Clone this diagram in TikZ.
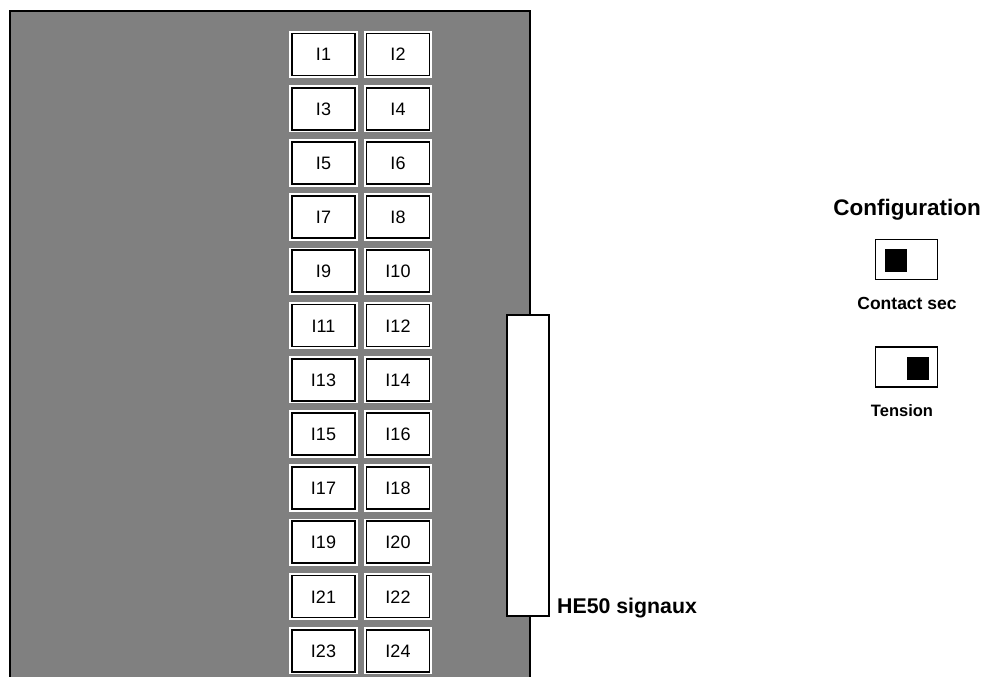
\documentclass[tikz,border=0pt]{standalone}
\usepackage{fontspec}
\setmainfont{Liberation Sans}
\definecolor{panelgray}{RGB}{128,128,128}
\tikzset{
  btn/.style={draw=black, line width=1.8pt, fill=white, preaction={draw=white, line width=5.5pt},
    minimum width=63pt, minimum height=42pt, inner sep=0pt, outer sep=0pt,
    text height=13pt, text depth=0pt,
    font=\fontsize{18}{20}\selectfont},
  lbl/.style={font=\bfseries\fontsize{17}{19}\selectfont, inner sep=0pt},
  swbox/.style={draw=black, line width=1.4pt, fill=white, minimum width=62pt, minimum height=40pt, inner sep=0pt, outer sep=0pt},
  swknob/.style={fill=black, minimum width=22pt, minimum height=23pt, inner sep=0pt, outer sep=0pt}
}
\begin{document}
\begin{tikzpicture}[x=1pt,y=-1pt]
\useasboundingbox (0,0) rectangle (985,677);
\begin{scope}
\clip (0,0) rectangle (985,677);
\draw[fill=panelgray, line width=2pt] (10,11) rectangle (530,700);
\end{scope}
\foreach \r in {0,...,11}{
  \pgfmathtruncatemacro{\a}{2*\r+1}
  \pgfmathtruncatemacro{\b}{2*\r+2}
  \node[btn] (b\a) at (323.5,54.5+54.2*\r) {I\a};
  \node[btn] (b\b) at (398,54.5+54.2*\r) {I\b};
}
\node[draw=black, line width=1.6pt, fill=white, minimum width=42pt, minimum height=301pt, inner sep=0pt, outer sep=0pt] (conn) at (528,465.5) {};
\node[lbl, anchor=west, font=\bfseries\fontsize{21.3}{23}\selectfont] (connlbl) at (557,608) {HE50 signaux};
\node[lbl, font=\bfseries\fontsize{22.5}{24}\selectfont] (config) at (907,210) {Configuration};
\node[swbox] (sw1) at (906.5,259.5) {};
\node[swknob] (k1) at (896,260) {};
\node[lbl, font=\bfseries\fontsize{17.5}{19}\selectfont] (sw1lbl) at (907,303.5) {Contact sec};
\node[swbox] (sw2) at (906.5,367) {};
\node[swknob] (k2) at (917.5,368) {};
\node[lbl, font=\bfseries\fontsize{16.5}{18}\selectfont] (sw2lbl) at (902,410.5) {Tension};
\end{tikzpicture}
\end{document}
